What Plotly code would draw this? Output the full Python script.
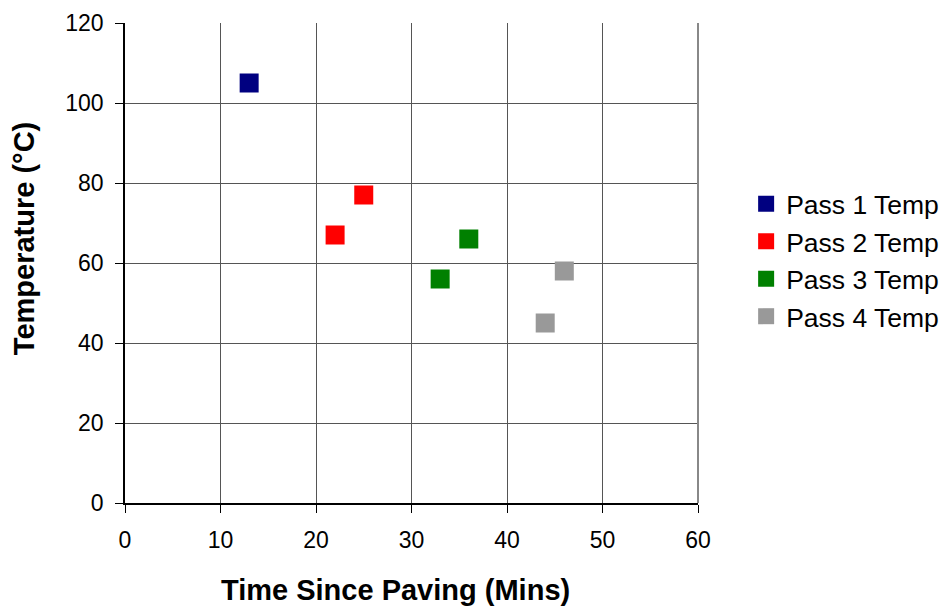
import plotly.graph_objects as go

# Temperature readings per roller pass
series_names = ["Pass 1 Temp", "Pass 2 Temp", "Pass 3 Temp", "Pass 4 Temp"]
time_mins = [[13], [22, 25], [33, 36], [44, 46]]
temps_c = [[105], [67, 77], [56, 66], [45, 58]]
colors = ["#000080", "#FF0000", "#008000", "#999999"]

x_ticks = [0, 10, 20, 30, 40, 50, 60]
y_ticks = [0, 20, 40, 60, 80, 100, 120]

FONT = "Arial, Liberation Sans, sans-serif"

fig = go.Figure()
for i, (name, xs, ys, c) in enumerate(zip(series_names, time_mins, temps_c, colors)):
    fig.add_trace(go.Scatter(
        x=xs, y=ys, mode="markers", name=name,
        legendgroup=f"g{i}",
        marker=dict(symbol="square", size=19, color=c, line=dict(width=0)),
    ))

fig.update_layout(
    width=943, height=611,
    margin=dict(l=125, r=245, t=23, b=108, autoexpand=False),
    paper_bgcolor="white", plot_bgcolor="white",
    font=dict(family=FONT, size=23, color="black"),
    showlegend=True,
    legend=dict(
        x=1.084, xanchor="left", xref="paper",
        y=0.506, yanchor="middle",
        font=dict(family=FONT, size=26.5, color="black"),
        tracegroupgap=0,
        itemwidth=30,
        bgcolor="rgba(0,0,0,0)",
    ),
    xaxis=dict(
        range=[0, 60], tickvals=x_ticks, ticktext=[str(v) for v in x_ticks],
        showgrid=True, gridcolor="#555555", gridwidth=1,
        showline=True, linecolor="black", linewidth=1.5,
        ticks="outside", ticklen=8, tickcolor="black",
        ticklabelstandoff=8,
        zeroline=False,
    ),
    yaxis=dict(
        range=[0, 120], tickvals=y_ticks, ticktext=[str(v) for v in y_ticks],
        showgrid=True, gridcolor="#555555", gridwidth=1,
        showline=True, linecolor="black", linewidth=1.5,
        ticks="outside", ticklen=8, tickcolor="black",
        ticklabelstandoff=7,
        zeroline=False,
    ),
)

# Axis titles
fig.add_annotation(text="<b>Time Since Paving (Mins)</b>", xref="paper", yref="paper",
                   x=0.472, y=-0.181, xanchor="center", yanchor="middle",
                   showarrow=False, font=dict(family=FONT, size=29, color="black"))
fig.add_annotation(text="<b>Temperature (°C)</b>", xref="paper", yref="paper",
                   x=-0.176, y=0.55, xanchor="center", yanchor="middle", textangle=-90,
                   showarrow=False, font=dict(family=FONT, size=29, color="black"))

# Gray frame on the right edge of the plotting area
fig.add_shape(type="line", xref="paper", yref="paper", x0=1, x1=1, y0=0, y1=1,
              line=dict(color="#888888", width=2))

fig.write_html("out.html")
